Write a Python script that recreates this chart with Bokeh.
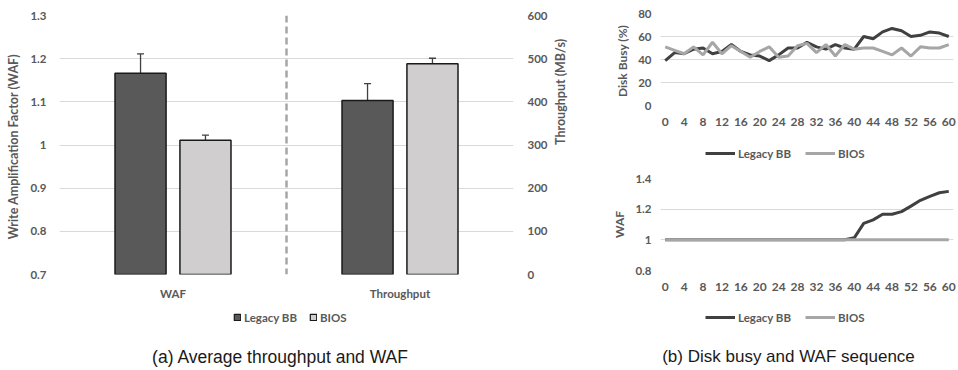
import math
from bokeh.plotting import figure
from bokeh.models import (Range1d, LinearAxis, FixedTicker, CustomJSTickFormatter, ColumnDataSource,
                          Whisker, TeeHead, Span, Legend, LegendItem, Label)
from bokeh.layouts import row, column
from bokeh.embed import file_html
from bokeh.resources import INLINE

# ---------------- data ----------------
metrics = ["WAF", "Throughput"]
series = ["Legacy BB", "BIOS"]
waf_mean = [1.166, 1.011]
waf_err = [0.045, 0.012]
tp_mean = [403, 488]
tp_err = [39, 13]

waf_ticks = [0.7, 0.8, 0.9, 1.0, 1.1, 1.2, 1.3]
tp_ticks = [0, 100, 200, 300, 400, 500, 600]

time = [0, 2, 4, 6, 8, 10, 12, 14, 16, 18, 20, 22, 24, 26, 28, 30,
        32, 34, 36, 38, 40, 42, 44, 46, 48, 50, 52, 54, 56, 58, 60]
busy_legacy = [39, 46, 45, 49, 50, 45, 47, 53, 47, 44, 43, 39, 44, 50, 50, 55,
               51, 49, 53, 50, 49, 60, 58, 64, 67, 65, 60, 61, 64, 63, 60]
busy_bios = [51, 48, 45, 51, 44, 55, 45, 52, 47, 42, 47, 51, 42, 43, 52, 54,
             46, 53, 43, 53, 49, 50, 50, 47, 44, 50, 43, 51, 50, 50, 53]
wafseq_legacy = [1.0, 1.0, 1.0, 1.0, 1.0, 1.0, 1.0, 1.0, 1.0, 1.0, 1.0, 1.0, 1.0, 1.0, 1.0, 1.0,
                 1.0, 1.0, 1.0, 1.0, 1.013, 1.107, 1.13, 1.167, 1.167, 1.184, 1.22, 1.258, 1.284, 1.307, 1.316]
wafseq_bios = [1.0, 1.0, 1.0, 1.0, 1.0, 1.0, 1.0, 1.0, 1.0, 1.0, 1.0, 1.0, 1.0, 1.0, 1.0, 1.0,
               1.0, 1.0, 1.0, 1.0, 1.0, 1.0, 1.0, 1.0, 1.0, 1.0, 1.0, 1.0, 1.0, 1.0, 1.0]
time_ticks = [0, 4, 8, 12, 16, 20, 24, 28, 32, 36, 40, 44, 48, 52, 56, 60]
busy_ticks = [0, 20, 40, 60, 80]
wafseq_ticks = [0.8, 1.0, 1.2, 1.4]

# ---------------- styles ----------------
FONT = "Lato"
TXT = "#595959"
GRID = "#D9D9D9"
DARK_FILL = "#595959"
LIGHT_FILL = "#D0CECE"
DARK_LINE = "#404040"
LIGHT_LINE = "#A6A6A6"
OUTLINE = "#1a1a1a"
NAN = float("nan")
fmt = CustomJSTickFormatter(code="return (Math.round(tick*10)/10).toString();")


def style_axis(ax, standoff=12, title_size="12px"):
    ax.axis_line_color = None
    ax.major_tick_line_color = None
    ax.minor_tick_line_color = None
    ax.major_tick_out = 0
    ax.major_tick_in = 0
    ax.major_label_standoff = standoff
    ax.major_label_text_font = FONT
    ax.major_label_text_font_style = "bold"
    ax.major_label_text_font_size = "11.5px"
    ax.major_label_text_color = TXT
    ax.axis_label_text_font = FONT
    ax.axis_label_text_font_style = "bold"
    ax.axis_label_text_font_size = title_size
    ax.axis_label_text_color = TXT


def strip(width, height):
    f = figure(width=width, height=height, output_backend="svg", toolbar_location=None,
               x_range=Range1d(0, 1), y_range=Range1d(0, 1),
               x_axis_location=None, y_axis_location=None,
               min_border_left=0, min_border_right=0, min_border_top=0, min_border_bottom=0)
    f.outline_line_color = None
    f.grid.visible = False
    return f


def make_legend(items, x, y, glyph_w, spacing):
    return Legend(items=items, location=(x, y), orientation="horizontal",
                  glyph_width=glyph_w, glyph_height=8, label_height=14, label_standoff=3,
                  spacing=spacing, padding=0, margin=0,
                  border_line_color=None, background_fill_alpha=0,
                  label_text_font=FONT, label_text_font_style="bold", label_text_font_size="11.5px",
                  label_text_color=TXT)


def caption(text, x, y, size):
    return Label(x=x, y=y, x_units="screen", y_units="screen", text=text,
                 text_align="center", text_baseline="middle",
                 text_font="Liberation Sans", text_font_size=size, text_color="#1a1a1a")


# ---------------- left chart ----------------
left = figure(width=608, height=305, output_backend="svg", toolbar_location=None,
              x_range=Range1d(0, len(metrics)), y_range=Range1d(waf_ticks[0], waf_ticks[-1]),
              min_border_left=59, min_border_right=95, min_border_top=15, min_border_bottom=31)
left.extra_y_ranges = {"tp": Range1d(tp_ticks[0], tp_ticks[-1])}
left.outline_line_color = None
left.xgrid.visible = False
left.ygrid.grid_line_color = GRID
left.ygrid.grid_line_width = 1

left.yaxis.ticker = FixedTicker(ticks=waf_ticks)
left.yaxis.formatter = fmt
left.yaxis.axis_label = "Write Amplification  Factor (WAF)"
left.yaxis.axis_label_standoff = 6
style_axis(left.yaxis[0], 13, "12.5px")

cat_centers = [i + 0.5 for i in range(len(metrics))]
left.xaxis.ticker = FixedTicker(ticks=cat_centers)
left.xaxis.major_label_overrides = {c: m for c, m in zip(cat_centers, metrics)}
style_axis(left.xaxis[0], 12)

raxis = LinearAxis(y_range_name="tp", ticker=FixedTicker(ticks=tp_ticks),
                   axis_label="Throughput (MB/s)")
style_axis(raxis, 14, "12.5px")
raxis.axis_label_standoff = 10
try:
    raxis.axis_label_orientation = math.pi / 2
except Exception:
    pass
left.add_layout(raxis, "right")

offsets = [-0.143, 0.143]
fills = [DARK_FILL, LIGHT_FILL]
bar_w = 0.225
for si, name in enumerate(series):
    xw = cat_centers[0] + offsets[si]
    xt = cat_centers[1] + offsets[si]
    left.vbar(x=[xw], top=[waf_mean[si]], bottom=waf_ticks[0], width=bar_w,
              fill_color=fills[si], line_color=OUTLINE, line_width=1.5)
    left.vbar(x=[xt], top=[tp_mean[si]], bottom=tp_ticks[0], width=bar_w,
              fill_color=fills[si], line_color=OUTLINE, line_width=1.5, y_range_name="tp")
    src_w = ColumnDataSource(dict(x=[xw], up=[waf_mean[si] + waf_err[si]], lo=[waf_mean[si] - waf_err[si]]))
    src_t = ColumnDataSource(dict(x=[xt], up=[tp_mean[si] + tp_err[si]], lo=[tp_mean[si] - tp_err[si]]))
    for src, rn in ((src_w, "default"), (src_t, "tp")):
        wk = Whisker(source=src, base="x", upper="up", lower="lo", dimension="height",
                     line_color=DARK_LINE, line_width=1.3, y_range_name=rn,
                     upper_head=TeeHead(size=7, line_color=DARK_LINE, line_width=1.3),
                     lower_head=TeeHead(size=7, line_color=DARK_LINE, line_width=1.3))
        left.add_layout(wk)

left.add_layout(Span(location=1, dimension="height", line_color=LIGHT_LINE,
                     line_width=2.5, line_dash="7 4"))

# legend + caption strip for the left chart (its frame is aligned with the chart frame)
left_strip = strip(608, 65)
leg_rs = [left_strip.vbar(x=[NAN], top=[NAN], width=1, fill_color=fills[si],
                          line_color=OUTLINE, line_width=1.2)
          for si in range(len(series))]
left_strip.add_layout(make_legend([LegendItem(label=n, renderers=[r]) for n, r in zip(series, leg_rs)],
                                  174, 46, 8, 12))
left_strip.add_layout(caption("(a) Average throughput and WAF", 221, 14, "17.5px"))


# ---------------- right charts ----------------
def line_fig(height, top, bottom, yticks, ylabel):
    f = figure(width=350, height=height, output_backend="svg", toolbar_location=None,
               x_range=Range1d(-1, 61), y_range=Range1d(yticks[0], yticks[-1]),
               min_border_left=52, min_border_right=5, min_border_top=top, min_border_bottom=bottom)
    f.outline_line_color = None
    f.xgrid.visible = False
    f.ygrid.grid_line_color = GRID
    f.yaxis.ticker = FixedTicker(ticks=yticks)
    f.yaxis.formatter = fmt
    f.yaxis.axis_label = ylabel
    f.yaxis.axis_label_standoff = 5
    style_axis(f.yaxis[0], 9)
    f.xaxis.ticker = FixedTicker(ticks=time_ticks)
    style_axis(f.xaxis[0], 12)
    f.xaxis.major_label_text_font_size = "12px"
    return f


def line_strip(height, legend_y):
    s = strip(350, height)
    r1 = s.line(x=[NAN], y=[NAN], line_color=DARK_LINE, line_width=3)
    r2 = s.line(x=[NAN], y=[NAN], line_color=LIGHT_LINE, line_width=3)
    s.add_layout(make_legend([LegendItem(label=series[0], renderers=[r1]),
                              LegendItem(label=series[1], renderers=[r2])],
                             45, legend_y, 30, 14))
    return s


top = line_fig(135, 13, 30, busy_ticks, "Disk  Busy (%)")
top.line(time, busy_legacy, line_color=DARK_LINE, line_width=3)
top.line(time, busy_bios, line_color=LIGHT_LINE, line_width=3)
top_strip = line_strip(35, 10)

bot = line_fig(130, 8, 30, wafseq_ticks, "WAF")
bot.line(time, wafseq_legacy, line_color=DARK_LINE, line_width=3)
bot.line(time, wafseq_bios, line_color=LIGHT_LINE, line_width=3)
bot_strip = line_strip(70, 46)
bot_strip.add_layout(caption("(b) Disk busy and WAF sequence", 128, 14, "17px"))

layout = row(column(left, left_strip), column(top, top_strip, bot, bot_strip))
open("out.html", "w").write(file_html(layout, INLINE))
